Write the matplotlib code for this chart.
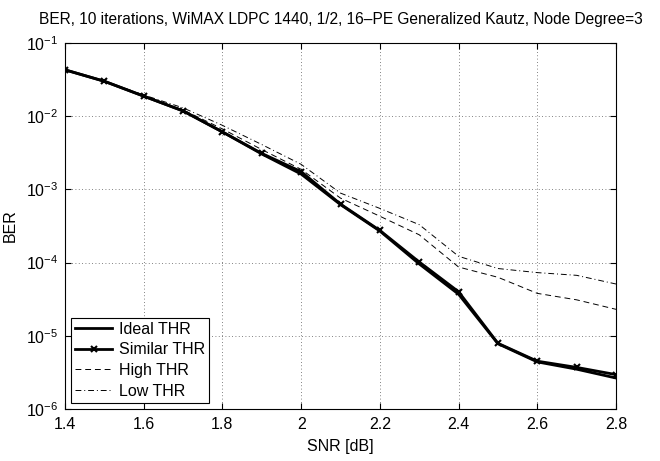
"""
BER vs SNR for WiMAX LDPC 1440 on a 16-PE generalized Kautz network,
comparing threshold settings.
"""
import matplotlib
matplotlib.use('Agg')
import matplotlib.pyplot as plt
from matplotlib.ticker import LogLocator, NullLocator

plt.rcParams['font.family'] = ['Liberation Sans', 'DejaVu Sans']
plt.rcParams['mathtext.fontset'] = 'custom'
plt.rcParams['mathtext.rm'] = 'Liberation Sans'


###########  data  ###########

snr = [1.4, 1.5, 1.6, 1.7, 1.8, 1.9, 2.0, 2.1, 2.2, 2.3, 2.4, 2.5, 2.6, 2.7, 2.8]

ber_ideal   = [4.3e-2, 3.0e-2, 1.88e-2, 1.18e-2, 6.1e-3, 3.05e-3, 1.62e-3,
               6.2e-4, 2.7e-4, 9.6e-5, 3.7e-5, 7.8e-6, 4.4e-6, 3.5e-6, 2.65e-6]
ber_similar = [4.3e-2, 3.0e-2, 1.88e-2, 1.18e-2, 6.1e-3, 3.1e-3, 1.75e-3,
               6.3e-4, 2.75e-4, 1.02e-4, 4.0e-5, 7.9e-6, 4.5e-6, 3.7e-6, 2.95e-6]
ber_high    = [4.3e-2, 3.0e-2, 1.9e-2, 1.22e-2, 6.7e-3, 3.5e-3, 1.88e-3,
               7.6e-4, 4.3e-4, 2.4e-4, 8.7e-5, 6.3e-5, 3.8e-5, 3.1e-5, 2.3e-5]
ber_low     = [4.3e-2, 3.0e-2, 1.95e-2, 1.3e-2, 7.5e-3, 4.1e-3, 2.2e-3,
               8.9e-4, 5.5e-4, 3.3e-4, 1.22e-4, 8.3e-5, 7.3e-5, 6.7e-5, 5.1e-5]

###########################################


fig = plt.figure(figsize=(6.6, 4.61), dpi=100)
ax = fig.add_axes([65/660, 1-409/461, 551/660, 366/461])

ax.semilogy(snr, ber_ideal, '-', color='k', lw=2, label='Ideal THR')
ax.semilogy(snr, ber_similar, '-', color='k', lw=2, marker='x',
            ms=5, mew=1.5, label='Similar THR')
ax.semilogy(snr, ber_high, '--', color='k', lw=0.7, dashes=(6, 4),
            label='High THR')
ax.semilogy(snr, ber_low, '-.', color='k', lw=0.7, dashes=(6, 3, 1, 3),
            label='Low THR')

ax.set_xlim(1.4, 2.8)
ax.set_ylim(1e-6, 1e-1)
ax.set_xticks([1.4, 1.6, 1.8, 2.0, 2.2, 2.4, 2.6, 2.8])
ax.set_xticklabels(['1.4', '1.6', '1.8', '2', '2.2', '2.4', '2.6', '2.8'])
ax.yaxis.set_major_locator(LogLocator(base=10, numticks=10))
ax.yaxis.set_minor_locator(NullLocator())

ax.grid(True, which='major', linestyle=(0, (1, 3)), linewidth=0.6,
        color='0.35')
ax.tick_params(direction='in', top=True, right=True, length=4,
               width=0.8, labelsize=11.5)
ax.tick_params(axis='x', pad=6)
ax.tick_params(axis='y', pad=5)
for s in ax.spines.values():
    s.set_linewidth(0.8)

ax.set_xlabel('SNR [dB]', fontsize=11.5, labelpad=5)
ax.set_ylabel('BER', fontsize=11.5, labelpad=6)
ax.set_title('BER, 10 iterations, WiMAX LDPC 1440, 1/2, 16\u2013PE Generalized '
             'Kautz, Node Degree=3', fontsize=11.2, pad=14)

leg = ax.legend(loc='lower left', fontsize=11.5, fancybox=False,
                edgecolor='k', framealpha=1, borderaxespad=0.4,
                handlelength=2.3, labelspacing=0.35, borderpad=0.25,
                handletextpad=0.4)
leg.get_frame().set_linewidth(0.8)

plt.savefig('out.png', dpi=100)
plt.close()
